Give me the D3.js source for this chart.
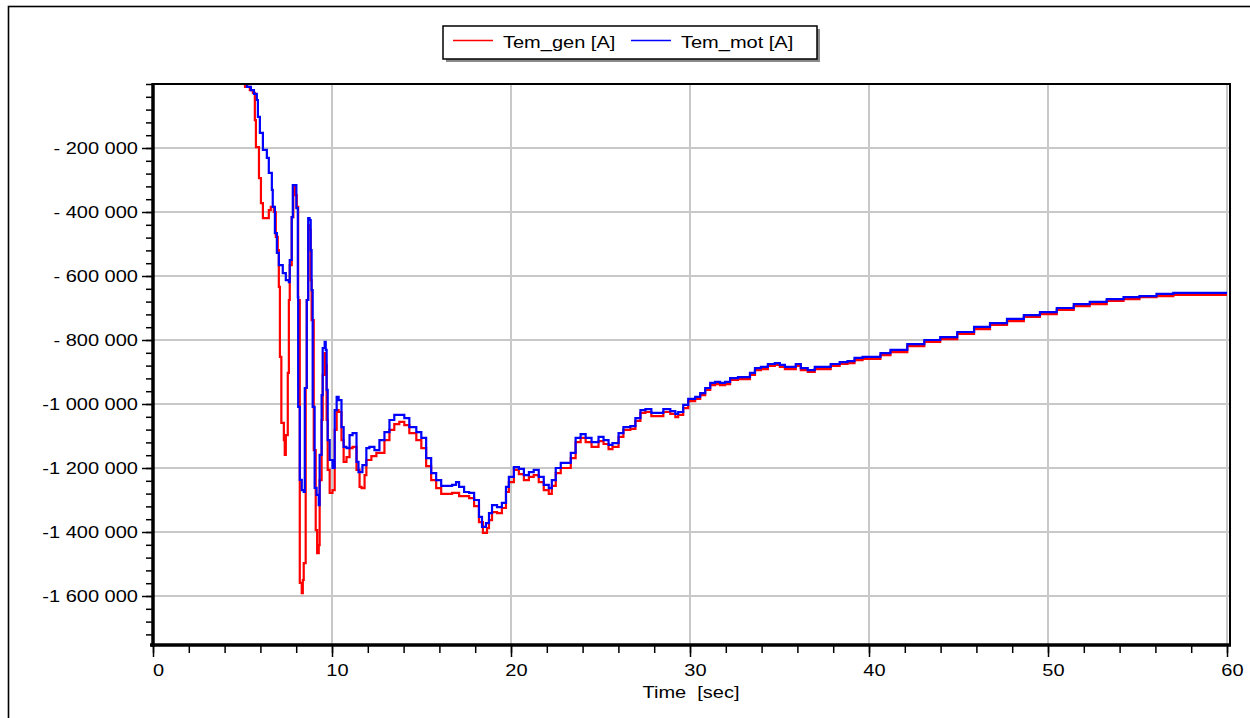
<!DOCTYPE html>
<html>
<head>
<meta charset="utf-8">
<script src="https://cdn.jsdelivr.net/npm/d3@7"></script>
<style>
  html, body { margin: 0; padding: 0; background: #ffffff; }
  svg { display: block; }
  text { font-family: "Liberation Sans", Arial, sans-serif; font-size: 16px; fill: #000; }
</style>
</head>
<body>
<svg id="chart" width="1250" height="718"></svg>
<script>
// Series names
const seriesNames = ["Tem_gen [A]", "Tem_mot [A]"];

// Tem_gen [A] samples: time (s) and value
const genTime = [0, 4.97, 5.14, 5.41, 5.58, 5.69, 5.75, 5.92, 6.03, 6.14,
  6.31, 6.47, 6.58, 6.75, 6.86, 6.97, 7.03, 7.09, 7.17, 7.31,
  7.36, 7.42, 7.53, 7.59, 7.64, 7.75, 7.84, 7.92, 8.03, 8.11,
  8.20, 8.31, 8.37, 8.42, 8.53, 8.59, 8.67, 8.75, 8.81, 8.86,
  8.98, 9.09, 9.17, 9.26, 9.31, 9.42, 9.48, 9.59, 9.65, 9.70,
  9.76, 9.87, 10.03, 10.15, 10.26, 10.37, 10.53, 10.65, 10.81, 10.98,
  11.15, 11.37, 11.54, 11.65, 11.82, 11.92, 12.20, 12.48, 12.93, 13.21,
  13.48, 13.76, 14.04, 14.32, 14.71, 14.99, 15.26, 15.54, 15.82, 16.10,
  16.71, 17.10, 17.66, 17.94, 18.21, 18.43, 18.66, 18.77, 18.94, 19.22,
  19.49, 19.72, 19.88, 20.16, 20.44, 20.72, 21.00, 21.27, 21.55, 21.83,
  22.11, 22.28, 22.50, 22.78, 23.06, 23.34, 23.61, 23.89, 24.17, 24.50,
  24.89, 25.17, 25.45, 25.67, 26.01, 26.28, 26.67, 26.95, 27.23, 27.51,
  27.84, 28.23, 28.51, 28.90, 29.18, 29.34, 29.62, 29.90, 30.29, 30.57,
  30.85, 31.13, 31.40, 31.68, 31.96, 32.24, 32.68, 33.07, 33.35, 33.63,
  33.96, 34.35, 34.74, 35.02, 35.30, 35.63, 35.91, 36.19, 36.58, 36.97,
  37.53, 37.86, 38.36, 38.80, 39.19, 39.64, 40.31, 40.64, 41.20, 42.14,
  43.09, 43.98, 44.93, 45.87, 46.76, 47.71, 48.65, 49.55, 50.49, 51.44,
  52.33, 53.28, 54.22, 55.11, 56.06, 57.00, 57.89, 60.0];
const genValue = [0, 0, -9000, -19000, -28000, -113000, -197000, -294000, -372000, -419000,
  -419000, -394000, -384000, -400000, -478000, -519000, -634000, -853000, -1059000, -1113000,
  -1159000, -1097000, -903000, -675000, -566000, -416000, -316000, -347000, -384000, -675000,
  -1559000, -1591000, -1550000, -1497000, -950000, -675000, -441000, -456000, -613000, -738000,
  -1144000, -1394000, -1466000, -1441000, -1238000, -1050000, -909000, -841000, -878000, -1050000,
  -1206000, -1278000, -1269000, -1081000, -1019000, -1025000, -1113000, -1181000, -1166000, -1138000,
  -1134000, -1206000, -1259000, -1263000, -1222000, -1175000, -1163000, -1153000, -1113000, -1081000,
  -1063000, -1056000, -1066000, -1091000, -1113000, -1138000, -1194000, -1238000, -1263000, -1281000,
  -1278000, -1288000, -1294000, -1319000, -1369000, -1403000, -1388000, -1363000, -1338000, -1341000,
  -1325000, -1275000, -1244000, -1206000, -1219000, -1238000, -1228000, -1222000, -1244000, -1269000,
  -1281000, -1256000, -1216000, -1200000, -1200000, -1169000, -1119000, -1106000, -1119000, -1134000,
  -1116000, -1125000, -1141000, -1134000, -1103000, -1081000, -1078000, -1053000, -1028000, -1025000,
  -1038000, -1038000, -1025000, -1031000, -1041000, -1034000, -1013000, -991000, -984000, -972000,
  -956000, -941000, -938000, -941000, -938000, -925000, -922000, -922000, -909000, -894000,
  -891000, -881000, -878000, -884000, -891000, -891000, -881000, -894000, -900000, -891000,
  -891000, -881000, -875000, -872000, -863000, -859000, -859000, -847000, -838000, -819000,
  -806000, -797000, -781000, -766000, -753000, -741000, -728000, -719000, -706000, -694000,
  -688000, -678000, -672000, -666000, -663000, -659000, -659000, -659000];

// Tem_mot [A] samples: time (s) and value
const motTime = [0, 5.02, 5.25, 5.47, 5.64, 5.80, 5.86, 5.97, 6.14, 6.36,
  6.47, 6.64, 6.69, 6.81, 6.92, 7.03, 7.25, 7.42, 7.59, 7.64,
  7.75, 7.81, 7.92, 8.01, 8.09, 8.11, 8.20, 8.31, 8.42, 8.48,
  8.59, 8.67, 8.75, 8.81, 8.86, 8.92, 9.03, 9.14, 9.26, 9.31,
  9.42, 9.48, 9.59, 9.65, 9.70, 9.76, 9.87, 10.03, 10.15, 10.26,
  10.37, 10.53, 10.65, 10.81, 10.98, 11.15, 11.37, 11.48, 11.70, 11.92,
  12.09, 12.37, 12.65, 12.93, 13.21, 13.48, 13.76, 14.04, 14.32, 14.71,
  14.99, 15.26, 15.54, 15.82, 16.10, 16.38, 16.71, 16.93, 17.10, 17.38,
  17.66, 17.94, 18.21, 18.38, 18.60, 18.77, 18.94, 19.22, 19.49, 19.72,
  19.88, 20.16, 20.44, 20.72, 21.00, 21.27, 21.55, 21.83, 22.11, 22.28,
  22.50, 22.78, 23.06, 23.34, 23.61, 23.89, 24.17, 24.50, 24.89, 25.17,
  25.45, 25.67, 26.01, 26.28, 26.67, 26.95, 27.23, 27.51, 27.84, 28.23,
  28.51, 28.90, 29.18, 29.34, 29.62, 29.90, 30.29, 30.57, 30.85, 31.13,
  31.40, 31.68, 31.96, 32.24, 32.68, 33.07, 33.35, 33.63, 33.96, 34.35,
  34.74, 35.02, 35.30, 35.63, 35.91, 36.19, 36.58, 36.97, 37.53, 37.86,
  38.36, 38.80, 39.19, 39.64, 40.31, 40.64, 41.20, 42.14, 43.09, 43.98,
  44.93, 45.87, 46.76, 47.71, 48.65, 49.55, 50.49, 51.44, 52.33, 53.28,
  54.22, 55.11, 56.06, 57.00, 57.89, 60.0];
const motValue = [0, 0, -9000, -19000, -31000, -50000, -103000, -153000, -206000, -231000,
  -278000, -331000, -384000, -466000, -528000, -566000, -591000, -613000, -619000, -550000,
  -416000, -316000, -316000, -388000, -666000, -1009000, -1237000, -1269000, -1275000, -950000,
  -675000, -419000, -425000, -519000, -644000, -1009000, -1262000, -1284000, -1316000, -1159000,
  -972000, -825000, -806000, -831000, -956000, -1113000, -1175000, -1200000, -1019000, -978000,
  -988000, -1072000, -1134000, -1138000, -1097000, -1091000, -1181000, -1213000, -1191000, -1138000,
  -1134000, -1144000, -1113000, -1088000, -1050000, -1034000, -1034000, -1044000, -1072000, -1088000,
  -1106000, -1169000, -1216000, -1238000, -1256000, -1256000, -1253000, -1244000, -1259000, -1275000,
  -1278000, -1300000, -1353000, -1384000, -1372000, -1341000, -1316000, -1322000, -1309000, -1259000,
  -1228000, -1197000, -1203000, -1222000, -1213000, -1206000, -1228000, -1253000, -1263000, -1238000,
  -1200000, -1184000, -1184000, -1153000, -1106000, -1094000, -1106000, -1119000, -1103000, -1113000,
  -1128000, -1122000, -1091000, -1072000, -1069000, -1044000, -1019000, -1016000, -1028000, -1028000,
  -1016000, -1022000, -1031000, -1025000, -1003000, -984000, -978000, -966000, -950000, -934000,
  -931000, -934000, -931000, -919000, -916000, -916000, -903000, -888000, -884000, -875000,
  -872000, -878000, -884000, -884000, -875000, -888000, -894000, -884000, -884000, -875000,
  -869000, -866000, -856000, -853000, -853000, -841000, -831000, -813000, -800000, -791000,
  -775000, -759000, -747000, -734000, -722000, -713000, -700000, -688000, -681000, -672000,
  -666000, -663000, -656000, -653000, -653000, -653000];

// Axis ticks and labels
const yTickValues = [-200000, -400000, -600000, -800000, -1000000, -1200000, -1400000, -1600000];
const yTickLabels = ["- 200 000", "- 400 000", "- 600 000", "- 800 000",
  "-1 000 000", "-1 200 000", "-1 400 000", "-1 600 000"];
const xTickValues = [0, 10, 20, 30, 40, 50, 60];
const xTickLabels = ["0", "10", "20", "30", "40", "50", "60"];
const xAxisTitle = "Time  [sec]";

const svg = d3.select("#chart");
const TEXT_STRETCH = 1.25;

// Outer frame of the figure
svg.append("rect")
  .attr("x", 8.5).attr("y", 6.5).attr("width", 1300).attr("height", 800)
  .attr("fill", "none").attr("stroke", "#000").attr("stroke-width", 1.6);

const x = d3.scaleLinear().domain([0, 60]).range([153, 1227]);
const y = d3.scaleLinear().domain([-1750000, 0]).range([644, 84]);
const plotLeft = 153, plotRight = 1230, plotTop = 84, plotBottom = 645;

// Grid
const grid = svg.append("g").attr("stroke", "#c8c8c8").attr("stroke-width", 2);
grid.selectAll("line.h").data(yTickValues).join("line")
  .attr("x1", plotLeft).attr("x2", plotRight)
  .attr("y1", d => y(d)).attr("y2", d => y(d));
grid.selectAll("line.v").data(xTickValues.filter(d => d > 0)).join("line")
  .attr("x1", d => x(d)).attr("x2", d => x(d))
  .attr("y1", plotTop).attr("y2", plotBottom);

// Series (sampled signals drawn as stairs)
svg.append("clipPath").attr("id", "plotClip").append("rect")
  .attr("x", plotLeft).attr("y", plotTop)
  .attr("width", plotRight - plotLeft).attr("height", plotBottom - plotTop);

const line = d3.line().x(d => x(d[0])).y(d => y(d[1])).curve(d3.curveStepAfter);
const series = [
  { name: seriesNames[0], color: "#ff0000", pts: d3.zip(genTime, genValue) },
  { name: seriesNames[1], color: "#0000ff", pts: d3.zip(motTime, motValue) }
];
const lines = svg.append("g").attr("clip-path", "url(#plotClip)");
series.forEach(s => {
  lines.append("path").datum(s.pts)
    .attr("d", line).attr("fill", "none")
    .attr("stroke", s.color).attr("stroke-width", 2.2)
    .attr("stroke-linejoin", "miter");
});

// Plot frame: top and right borders
svg.append("line").attr("x1", plotLeft).attr("x2", plotRight + 1)
  .attr("y1", plotTop).attr("y2", plotTop).attr("stroke", "#000").attr("stroke-width", 2);
svg.append("line").attr("x1", plotRight).attr("x2", plotRight)
  .attr("y1", plotTop).attr("y2", plotBottom).attr("stroke", "#000").attr("stroke-width", 2);

// Y axis: minor ticks, major ticks and labels
const yMinor = d3.range(0, -1750000, -40000);
const gyMinor = svg.append("g").attr("transform", `translate(${plotLeft},0)`)
  .call(d3.axisLeft(y).tickValues(yMinor).tickSize(7).tickFormat(""));
gyMinor.select(".domain").remove();
gyMinor.selectAll(".tick line").attr("stroke-width", 1.5);

const gy = svg.append("g").attr("transform", `translate(${plotLeft},0)`)
  .call(d3.axisLeft(y).tickValues(yTickValues).tickSize(11)
    .tickFormat((d, i) => yTickLabels[i]));
gy.select(".domain").remove();
gy.selectAll(".tick line").attr("stroke-width", 1.5);
gy.selectAll(".tick text")
  .attr("x", 0).attr("dy", "0.35em")
  .attr("transform", `translate(-15,0) scale(${TEXT_STRETCH},1)`)
  .style("font-size", "16px").attr("font-family", null);

// X axis: minor ticks, major ticks and labels
const xMinor = d3.range(0, 60.01, 2);
const gxMinor = svg.append("g").attr("transform", `translate(0,${plotBottom})`)
  .call(d3.axisBottom(x).tickValues(xMinor).tickSize(8).tickFormat(""));
gxMinor.select(".domain").remove();
gxMinor.selectAll(".tick line").attr("stroke-width", 1.5);

const gx = svg.append("g").attr("transform", `translate(0,${plotBottom})`)
  .call(d3.axisBottom(x).tickValues(xTickValues).tickSize(12)
    .tickFormat((d, i) => xTickLabels[i]));
gx.select(".domain").remove();
gx.selectAll(".tick line").attr("stroke-width", 1.5);
gx.selectAll(".tick text")
  .attr("y", 0).attr("dy", 0)
  .attr("transform", `translate(5,31) scale(${TEXT_STRETCH},1)`)
  .style("font-size", "16px").attr("font-family", null);

// Thick left and bottom axis lines
svg.append("line").attr("x1", plotLeft).attr("x2", plotLeft)
  .attr("y1", plotTop - 1).attr("y2", plotBottom + 2)
  .attr("stroke", "#000").attr("stroke-width", 3.5);
svg.append("line").attr("x1", plotLeft - 3).attr("x2", plotRight + 1)
  .attr("y1", plotBottom).attr("y2", plotBottom)
  .attr("stroke", "#000").attr("stroke-width", 3.5);

// Axis title
svg.append("text")
  .attr("transform", `translate(691,698) scale(${TEXT_STRETCH},1)`)
  .attr("text-anchor", "middle")
  .style("white-space", "pre")
  .attr("xml:space", "preserve")
  .text(xAxisTitle);

// Legend
const legend = svg.append("g");
legend.append("rect").attr("x", 446).attr("y", 29).attr("width", 374).attr("height", 33)
  .attr("fill", "#8a8a8a");
legend.append("rect").attr("x", 443).attr("y", 26).attr("width", 374).attr("height", 33)
  .attr("fill", "#fff").attr("stroke", "#000").attr("stroke-width", 1.5);
const legendItems = [
  { lx: 453, tx: 503 },
  { lx: 631, tx: 681 }
];
series.forEach((s, i) => {
  const it = legendItems[i];
  legend.append("line").attr("x1", it.lx).attr("x2", it.lx + 40)
    .attr("y1", 40.5).attr("y2", 40.5)
    .attr("stroke", s.color).attr("stroke-width", 1.5);
  legend.append("text")
    .attr("transform", `translate(${it.tx},48) scale(${TEXT_STRETCH},1)`)
    .text(s.name);
});
</script>
</body>
</html>
